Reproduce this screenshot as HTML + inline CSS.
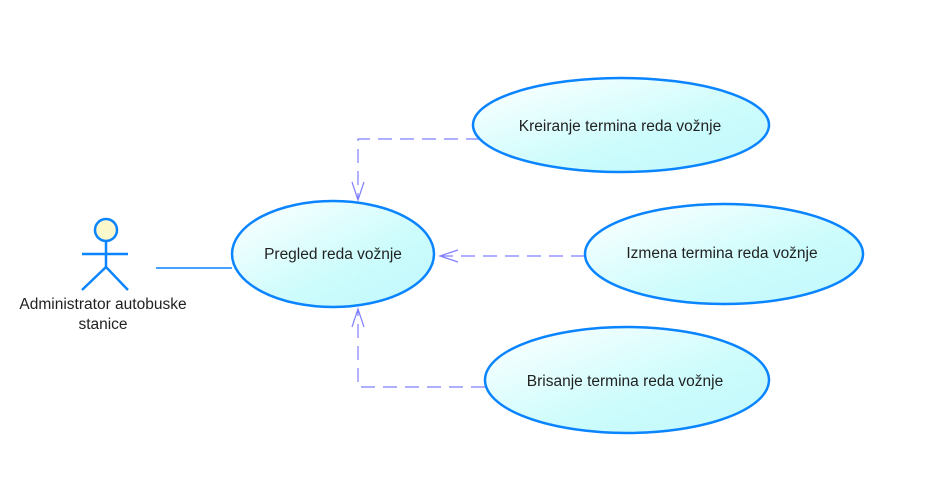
<!DOCTYPE html>
<html><head><style>body{margin:0;background:#fff}</style></head><body>
<svg width="928" height="481" xmlns="http://www.w3.org/2000/svg" font-family="Liberation Sans, sans-serif" font-size="15.5">
<defs><linearGradient id="g" x1="0" y1="0" x2="1" y2="1"><stop offset="0" stop-color="#ffffff"/><stop offset="0.6" stop-color="#cdfcfc"/><stop offset="1" stop-color="#c0f8fb"/></linearGradient></defs>
<g stroke="#7f7fff" stroke-width="1.2" fill="none" stroke-dasharray="14,8">
<polyline points="480,139 358,139 358,200"/>
<line x1="585" y1="256" x2="442" y2="256"/>
<polyline points="485,387 358,387 358,309"/>
</g>
<g stroke="#7f7fff" stroke-width="1.2" fill="none">
<polyline points="352,182 358,200 364,182"/>
<polyline points="458,250 440,256 458,262"/>
<polyline points="352,327 358,309 364,327"/>
</g>
<line x1="156" y1="268" x2="232" y2="268" stroke="#0a84ff" stroke-width="1.5"/>
<g stroke="#0a84ff" stroke-width="2.5" fill="url(#g)">
<ellipse cx="333" cy="254" rx="101" ry="53"/>
<ellipse cx="621" cy="125" rx="148" ry="47"/>
<ellipse cx="724" cy="254" rx="139" ry="50"/>
<ellipse cx="627" cy="380" rx="142" ry="53"/>
</g>
<g stroke="#0a84ff" stroke-width="2.5" fill="none">
<circle cx="106" cy="230" r="11" fill="#fbf8cc"/>
<line x1="82" y1="254" x2="128" y2="254"/>
<line x1="106" y1="241" x2="106" y2="267"/>
<polyline points="82,290 106,267 128,290"/>
</g>
<g fill="#222" text-anchor="middle">
<text x="333" y="259">Pregled reda vožnje</text>
<text x="620" y="131">Kreiranje termina reda vožnje</text>
<text x="722" y="258">Izmena termina reda vožnje</text>
<text x="625" y="386">Brisanje termina reda vožnje</text>
<text x="103" y="309">Administrator autobuske</text>
<text x="103" y="329">stanice</text>
</g>
</svg>
</body></html>
